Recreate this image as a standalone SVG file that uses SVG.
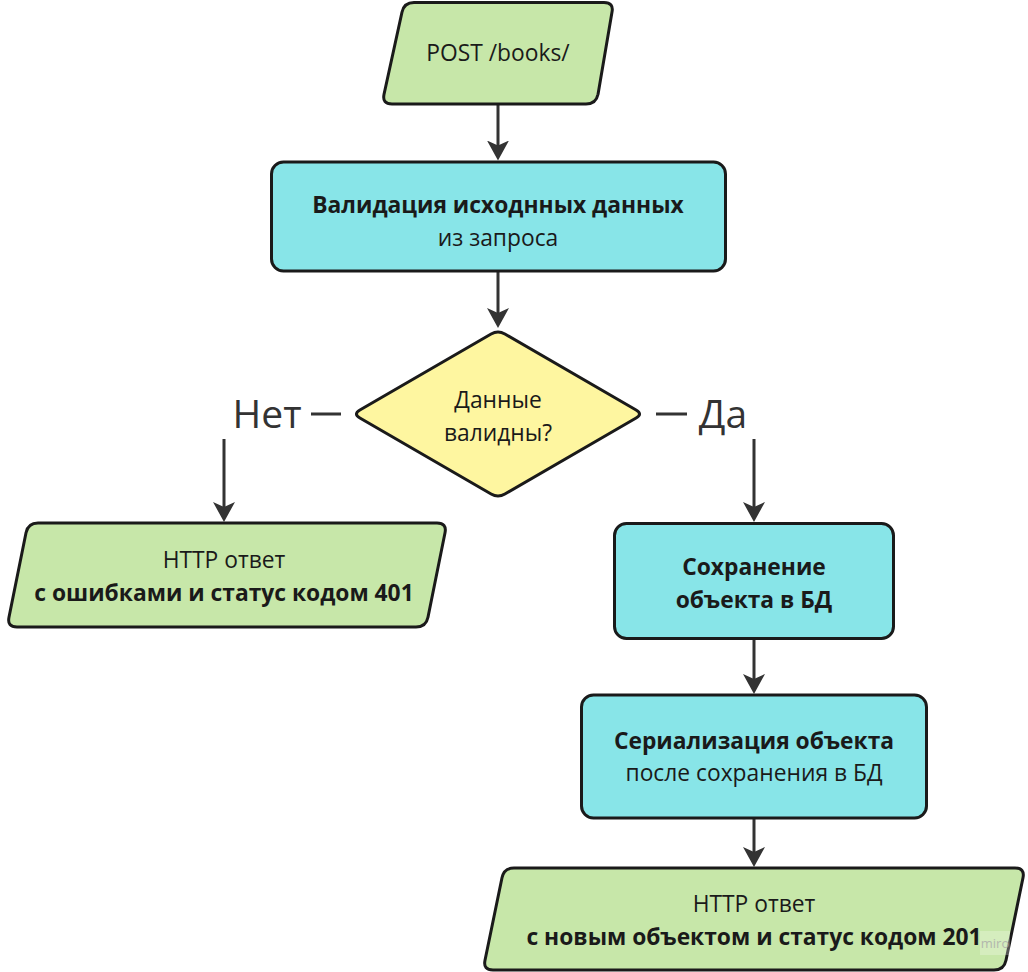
<svg xmlns="http://www.w3.org/2000/svg" width="1028" height="972" viewBox="0 0 1028 972">
  <defs>
    <marker id="arrow" viewBox="0 0 22 22" markerWidth="22" markerHeight="22" refX="15" refY="11" orient="auto" markerUnits="userSpaceOnUse">
      <path d="M0,0 L20,11 L0,22 L5,11 Z" fill="#333333"/>
    </marker>
  </defs>
  <style>
    .io { fill: #c7e7a9; stroke: #1a1a1a; stroke-width: 3; stroke-linejoin: round; }
    .proc { fill: #88e5e8; stroke: #1a1a1a; stroke-width: 3; }
    .dec { fill: #fef6a0; stroke: #1a1a1a; stroke-width: 3; stroke-linejoin: round; }
    .conn { fill: none; stroke: #333333; stroke-width: 3; marker-end: url(#arrow); }
    text { font-family: "Open Sans", "Noto Sans", "Liberation Sans", sans-serif; fill: #1a1a1a; text-anchor: middle; }
    .t { font-size: 22.8px; }
    .b { font-size: 22.8px; font-weight: bold; }
    .lbl { font-size: 39px; fill: #333333; }
  </style>
  <rect width="1028" height="972" fill="#ffffff"/>

  <g id="connectors">
    <path class="conn" d="M498,104 L498,155.5"/>
    <path class="conn" d="M498,271 L498,323"/>
    <path class="conn" d="M341,414 L224,414 L224,517"/>
    <path class="conn" d="M656,414 L754,414 L754,517"/>
    <path class="conn" d="M754,639 L754,689"/>
    <path class="conn" d="M754,818 L754,862"/>
    <g id="label-no">
      <rect x="212" y="390" width="99" height="49" fill="#ffffff"/>
      <text class="lbl" x="267" y="428">Нет</text>
    </g>
    <g id="label-yes">
      <rect x="687" y="390" width="76" height="49" fill="#ffffff"/>
      <text class="lbl" x="723" y="428">Да</text>
    </g>
  </g>

  <g id="start">
    <path class="io" d="M414,2.5 L604,2.5 Q614,2.5 611.97,12.29 L598.03,94.21 Q596,104 586,104 L392,104 Q382,104 384.03,94.21 L401.97,12.29 Q404,2.5 414,2.5 Z"/>
    <text class="t" x="498" y="61">POST /books/</text>
  </g>

  <g id="validate">
    <rect class="proc" x="271.5" y="162" width="454" height="109" rx="12"/>
    <text class="b" x="498" y="213">Валидация исходнных данных</text>
    <text class="t" x="498" y="246">из запроса</text>
  </g>

  <g id="decision">
    <path class="dec" d="M491.1,334 Q498,330 504.9,334 L636.1,410 Q643,414 636.1,418 L504.9,494 Q498,498 491.1,494 L359.9,418 Q353,414 359.9,410 Z"/>
    <text class="t" x="498" y="408">Данные</text>
    <text class="t" x="498" y="441">валидны?</text>
  </g>

  <g id="error-response">
    <path class="io" d="M38,523 L437,523 Q447,523 445.02,532.8 L427.98,617.2 Q426,627 416,627 L17,627 Q7,627 8.98,617.2 L26.02,532.8 Q28,523 38,523 Z"/>
    <text class="t" x="224" y="568">HTTP ответ</text>
    <text class="b" x="224" y="601">с ошибками и статус кодом 401</text>
  </g>

  <g id="save">
    <rect class="proc" x="614.5" y="523.5" width="279" height="115" rx="12"/>
    <text class="b" x="754" y="575">Сохранение</text>
    <text class="b" x="754" y="608">объекта в БД</text>
  </g>

  <g id="serialize">
    <rect class="proc" x="581.5" y="695" width="345" height="123" rx="12"/>
    <text class="b" x="754" y="749">Сериализация объекта</text>
    <text class="t" x="754" y="781">после сохранения в БД</text>
  </g>

  <g id="success-response">
    <path class="io" d="M514,868 L1015,868 Q1025,868 1023,877.8 L1006,960.2 Q1004,970 994,970 L493,970 Q483,970 485,960.2 L502,877.8 Q504,868 514,868 Z"/>
    <text class="t" x="754" y="912">HTTP ответ</text>
    <text class="b" x="754" y="945">с новым объектом и статус кодом 201</text>
  </g>

  <g id="watermark">
    <rect x="980" y="931" width="30" height="24" fill="#ffffff" opacity="0.25"/>
    <text x="995" y="948" style="font-size:13px; fill:#aaaaaa; opacity:0.8">miro</text>
  </g>
</svg>
